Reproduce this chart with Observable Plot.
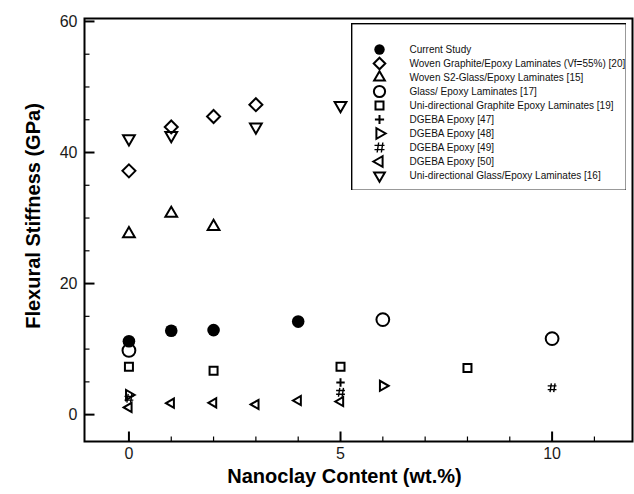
<!DOCTYPE html>
<html>
<head>
<meta charset="utf-8">
<script src="https://cdn.jsdelivr.net/npm/d3@7"></script>
<script src="https://cdn.jsdelivr.net/npm/@observablehq/plot@0.6"></script>
<style>
  html, body { margin: 0; padding: 0; background: #fff; }
  #wrap { position: relative; width: 634px; height: 494px; font-family: "Liberation Sans", Arial, sans-serif; }
  #legend { position: absolute; left: 351px; top: 23px; }
</style>
</head>
<body>
<div id="wrap"><div id="legend"></div></div>
<script>
// ---- data (x = nanoclay wt.%, y = flexural stiffness GPa) ----
const seriesNames = [
  "Current Study",
  "Woven Graphite/Epoxy Laminates (Vf=55%) [20]",
  "Woven S2-Glass/Epoxy Laminates [15]",
  "Glass/ Epoxy Laminates [17]",
  "Uni-directional Graphite Epoxy Laminates [19]",
  "DGEBA Epoxy [47]",
  "DGEBA Epoxy [48]",
  "DGEBA Epoxy [49]",
  "DGEBA Epoxy [50]",
  "Uni-directional Glass/Epoxy Laminates [16]"
];
const currentStudy   = [[0, 11.2], [1, 12.8], [2, 12.9], [4, 14.2]];
const wovenGraphite  = [[0, 37.2], [1, 43.9], [2, 45.5], [3, 47.3]];
const wovenS2Glass   = [[0, 27.6], [1, 30.7], [2, 28.7]];
const glassEpoxy     = [[0, 9.8], [6, 14.5], [10, 11.6]];
const uniGraphite    = [[0, 7.3], [2, 6.7], [5, 7.3], [8, 7.1]];
const dgeba47        = [[5, 4.9]];
const dgeba48        = [[0, 3.0], [6, 4.4]];
const dgeba49        = [[0, 2.5], [5, 3.4], [10, 4.1]];
const dgeba50        = [[0, 1.1], [1, 1.75], [2, 1.8], [3, 1.55], [4, 2.15], [5, 2.0]];
const uniGlass       = [[0, 42.1], [1, 42.6], [3, 43.9], [5, 47.2]];
const seriesData = [currentStudy, wovenGraphite, wovenS2Glass, glassEpoxy, uniGraphite,
                    dgeba47, dgeba48, dgeba49, dgeba50, uniGlass];

const xMajorTicks = [0, 5, 10];
const xMinorTicks = [0, 1, 2, 3, 4, 5, 6, 7, 8, 9, 10, 11];
const yMajorTicks = [0, 20, 40, 60];
const yMinorTicks = [5, 10, 15, 25, 30, 35, 45, 50, 55];
const xTitle = "Nanoclay Content (wt.%)";
const yTitle = "Flexural Stiffness (GPa)";

// ---- custom symbols ----
const sym = f => ({draw(ctx, size) { f(ctx, Math.sqrt(size / Math.PI)); }});
const tri = a => sym((c, R) => {
  for (let k = 0; k < 3; k++) {
    const t = a + k * 2 * Math.PI / 3;
    const px = R * Math.sin(t), py = -R * Math.cos(t);
    k ? c.lineTo(px, py) : c.moveTo(px, py);
  }
  c.closePath();
});
const diamond = sym((c, r) => { c.moveTo(0, -r); c.lineTo(r, 0); c.lineTo(0, r); c.lineTo(-r, 0); c.closePath(); });
const square = sym((c, r) => { c.rect(-r, -r, 2 * r, 2 * r); });
const plus = sym((c, r) => { c.moveTo(-r, 0); c.lineTo(r, 0); c.moveTo(0, -r); c.lineTo(0, r); });
const hash = sym((c, r) => {
  const a = r * 0.42, s = r * 0.25;
  c.moveTo(-a + s, -r); c.lineTo(-a - s * 0.2, r); c.moveTo(a + s, -r); c.lineTo(a - s * 0.2, r);
  c.moveTo(-r, -a); c.lineTo(r, -a); c.moveTo(-r, a); c.lineTo(r, a);
});
const upTri = tri(0), downTri = tri(Math.PI), rightTri = tri(Math.PI / 2), leftTri = tri(-Math.PI / 2);
const hTick = len => ({draw(c) { c.moveTo(0, 0); c.lineTo(len, 0); }});
const vTick = len => ({draw(c) { c.moveTo(0, 0); c.lineTo(0, -len); }});

// style per series: [symbol, data r, legend r, filled, stroke width]
const seriesStyle = [
  ["circle", 6.3, 5.2, true, 0],
  [diamond, 6.5, 5.8, false, 2],
  [upTri, 6.8, 6.2, false, 2],
  ["circle", 6.4, 5.6, false, 2],
  [square, 4, 4, false, 2],
  [plus, 4.2, 4.6, false, 2],
  [rightTri, 5.8, 6.2, false, 2],
  [hash, 4.4, 5, false, 1.4],
  [leftTri, 5.3, 6.2, false, 2],
  [downTri, 6.8, 6.2, false, 2]
];

const dataMarks = seriesData.map((pts, i) => {
  const [symbol, r, , filled, sw] = seriesStyle[i];
  return Plot.dot(pts, {
    x: d => d[0], y: d => d[1], symbol, r,
    fill: filled ? "black" : "none",
    stroke: "black", strokeWidth: sw
  });
});

const chart = Plot.plot({
  width: 634, height: 494,
  marginLeft: 84, marginRight: 2, marginTop: 18, marginBottom: 53,
  style: {fontFamily: "'Liberation Sans', Arial, sans-serif", background: "white", color: "#1a1a1a"},
  x: {domain: [-1.05, 11.9]},
  y: {domain: [-4.1, 60.45]},
  marks: [
    Plot.axisY({ticks: yMajorTicks, tickSize: 0, tickPadding: 7, fontSize: 16, label: null}),
    Plot.axisX({ticks: xMajorTicks, tickSize: 0, tickPadding: 6, fontSize: 16, label: null}),
    Plot.dot(yMajorTicks, {y: d => d, frameAnchor: "left", symbol: hTick(10), stroke: "black", strokeWidth: 2}),
    Plot.dot(yMinorTicks, {y: d => d, frameAnchor: "left", symbol: hTick(5), stroke: "black", strokeWidth: 1.2}),
    Plot.dot(xMajorTicks, {x: d => d, frameAnchor: "bottom", symbol: vTick(10), stroke: "black", strokeWidth: 2}),
    Plot.dot(xMinorTicks.filter(d => !xMajorTicks.includes(d)), {x: d => d, frameAnchor: "bottom", symbol: vTick(5), stroke: "black", strokeWidth: 1.2}),
    Plot.frame({stroke: "black", strokeWidth: 2}),
    ...dataMarks,
    Plot.text([xTitle], {text: d => d, frameAnchor: "bottom", textAnchor: "middle", dy: 41, dx: -14, fontSize: 20, fontWeight: "bold", fill: "black"}),
    Plot.text([yTitle], {text: d => d, frameAnchor: "left", textAnchor: "middle", dx: -51, dy: -14, rotate: -90, fontSize: 20, fontWeight: "bold", fill: "black"})
  ]
});
document.getElementById("wrap").prepend(chart);

// ---- legend (overlaid inside the plot frame) ----
const legendMarks = [Plot.frame({stroke: "black", strokeWidth: 1.8})];
seriesNames.forEach((name, i) => {
  const [symbol, , lr, filled, sw] = seriesStyle[i];
  legendMarks.push(Plot.dot([name], {
    y: d => d, frameAnchor: "left", dx: 28, symbol, r: lr,
    fill: filled ? "black" : "none", stroke: "black", strokeWidth: sw
  }));
});
legendMarks.push(Plot.text(seriesNames, {
  y: d => d, text: d => d, frameAnchor: "left", dx: 58, textAnchor: "start",
  fontSize: 10, fill: "#111"
}));
const legend = Plot.plot({
  width: 275, height: 167,
  margin: 0,
  style: {fontFamily: "'Liberation Sans', Arial, sans-serif", background: "white"},
  x: {axis: null},
  y: {type: "point", domain: seriesNames, range: [18.5, 158.5], axis: null},
  marks: legendMarks
});
document.getElementById("legend").appendChild(legend);
</script>
</body>
</html>
